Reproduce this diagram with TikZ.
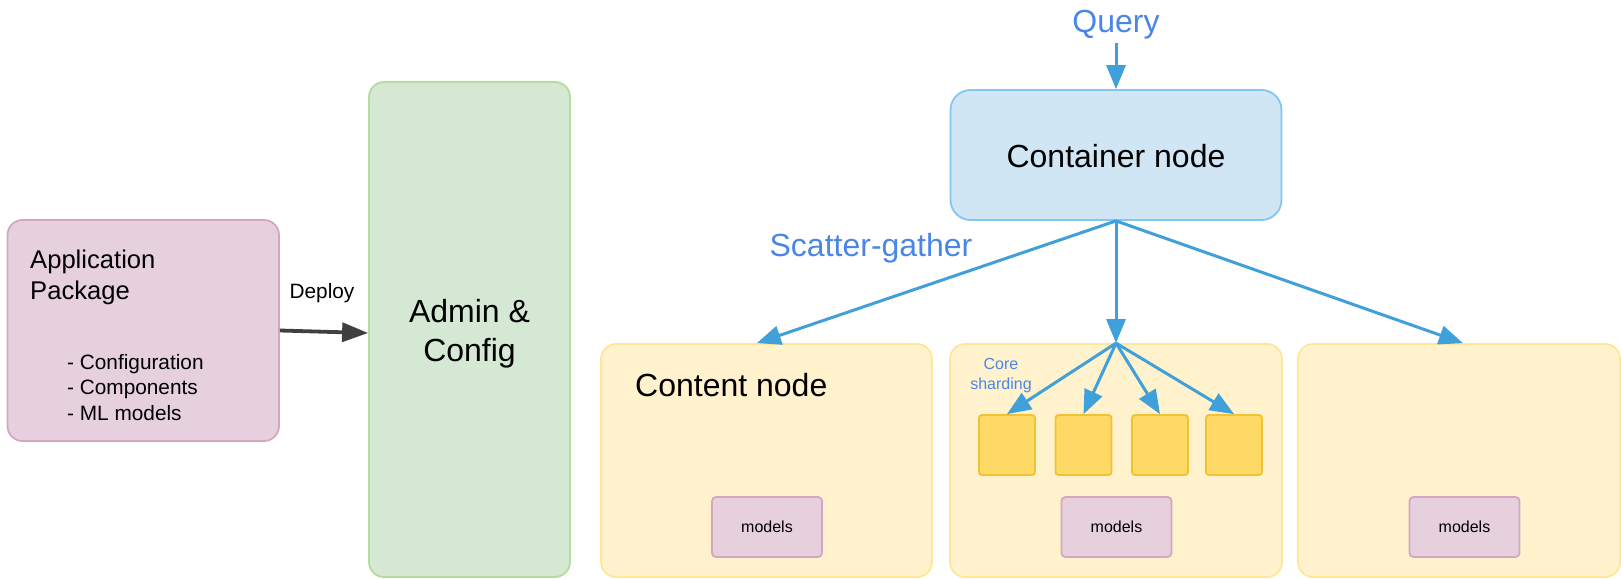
\documentclass[tikz,border=0pt]{standalone}
\usepackage{fontspec}
\setmainfont{Liberation Sans}
\usetikzlibrary{arrows.meta,calc}
\definecolor{appfill}{HTML}{E6D0DE}
\definecolor{appdraw}{HTML}{D5A6C2}
\definecolor{admfill}{HTML}{D5E8D4}
\definecolor{admdraw}{HTML}{B5DB9F}
\definecolor{ctfill}{HTML}{D0E6F5}
\definecolor{ctdraw}{HTML}{84C5F2}
\definecolor{cnfill}{HTML}{FFF2CC}
\definecolor{cndraw}{HTML}{FFE699}
\definecolor{sqfill}{HTML}{FFD966}
\definecolor{sqdraw}{HTML}{F1C232}
\definecolor{arrblue}{HTML}{3FA0DA}
\definecolor{txtblue}{HTML}{4A86E8}
\definecolor{deploygray}{HTML}{404040}
\begin{document}
\begin{tikzpicture}[x=1pt,y=-1pt,
  box/.style={draw, line width=1.8pt, inner sep=0pt},
  appbox/.style={box, fill=appfill, draw=appdraw, rounded corners=15pt},
  admbox/.style={box, fill=admfill, draw=admdraw, rounded corners=15pt},
  ctbox/.style={box, fill=ctfill, draw=ctdraw, rounded corners=20pt},
  cnbox/.style={box, fill=cnfill, draw=cndraw, rounded corners=15pt, minimum height=233pt},
  sqbox/.style={box, fill=sqfill, draw=sqdraw, rounded corners=3pt, minimum width=56pt, minimum height=60pt},
  mdbox/.style={box, fill=appfill, draw=appdraw, rounded corners=4pt, minimum width=110pt, minimum height=60pt,
    font=\fontsize{16}{19}\selectfont},
  big/.style={inner sep=0pt, anchor=base, font=\fontsize{32}{38}\selectfont},
  mid/.style={inner sep=0pt, anchor=base west, font=\fontsize{25.6}{31}\selectfont},
  small/.style={inner sep=0pt, anchor=base west, font=\fontsize{20.8}{25}\selectfont},
  barrow/.style={draw=arrblue, line width=3pt, -{Triangle[length=24pt,width=19pt]}},
  garrow/.style={draw=deploygray, line width=3.8pt, -{Triangle[length=26pt,width=19pt]}}
]
\useasboundingbox (0,0) rectangle (1621,578);

% boxes
\node[appbox, minimum width=271.5pt, minimum height=221pt] (app) at (143.25,330.5) {};
\node[admbox, minimum width=201pt, minimum height=495pt] (admin) at (469.5,329.5) {};
\node[ctbox, minimum width=331pt, minimum height=130pt] (container) at (1116,155) {};
\node[cnbox, minimum width=331pt] (cn1) at (766.5,460.5) {};
\node[cnbox, minimum width=332pt] (cn2) at (1116,460.5) {};
\node[cnbox, minimum width=322pt] (cn3) at (1459,460.5) {};

\node[sqbox] (s1) at (1007,445) {};
\node[sqbox] (s2) at (1083.5,445) {};
\node[sqbox] (s3) at (1160,445) {};
\node[sqbox] (s4) at (1234,445) {};

\node[mdbox] (m1) at (767,527) {models};
\node[mdbox] (m2) at (1116.5,527) {models};
\node[mdbox] (m3) at (1464.5,527) {models};

% texts
\node[mid] (app1) at (30,268) {Application};
\node[mid] (app2) at (30,299) {Package};
\node[small] (li1) at (67,369) {- Configuration};
\node[small] (li2) at (67,394.5) {- Components};
\node[small] (li3) at (67,420) {- ML models};
\node[small, anchor=base] (deploy) at (322,298) {Deploy};
\node[big] (adm1) at (469.5,322.7) {Admin \&};
\node[big] (adm2) at (469.5,361) {Config};
\node[big] (ctxt) at (1116,167.5) {Container node};
\node[big, anchor=base west] (cntxt) at (635,396) {Content node};
\node[big, text=txtblue, inner sep=3pt] (query) at (1116,33) {Query};
\node[big, text=txtblue] (sg) at (871,256) {Scatter-gather};
\node[inner sep=0pt, anchor=base, text=txtblue, font=\fontsize{16}{20}\selectfont] (core1) at (1001,369.3) {Core};
\node[inner sep=0pt, anchor=base, text=txtblue, font=\fontsize{16}{20}\selectfont] (core2) at (1001,389.3) {sharding};

% connectors
\draw[garrow] (app.east) -- ([yshift=-3.5pt]admin.west);
\draw[barrow] (query.south) -- (container.north);
\draw[barrow] (container.south) -- ($(cn1.north west)!0.471!(cn1.north east)$);
\draw[barrow] (container.south) -- (cn2.north);
\draw[barrow] (container.south) -- ($(cn3.north west)!0.512!(cn3.north east)$);
\draw[barrow] (cn2.north) -- (s1.north);
\draw[barrow] (cn2.north) -- (s2.north);
\draw[barrow] (cn2.north) -- (s3.north);
\draw[barrow] (cn2.north) -- (s4.north);
\end{tikzpicture}
\end{document}
